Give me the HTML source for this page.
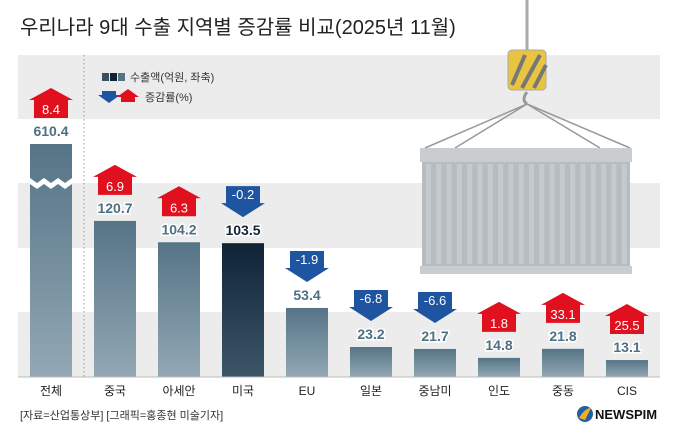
<!DOCTYPE html>
<html><head><meta charset="utf-8"><style>
body{margin:0;background:#fff}
svg{display:block;font-family:"Liberation Sans","Noto Sans CJK KR",sans-serif}
</style></head><body>
<svg width="680" height="442" viewBox="0 0 680 442">
<defs>
<linearGradient id="bg" x1="0" y1="0" x2="0" y2="1"><stop offset="0" stop-color="#557486"/><stop offset="1" stop-color="#93a8b4"/></linearGradient>
<linearGradient id="bd" x1="0" y1="0" x2="0" y2="1"><stop offset="0" stop-color="#0f2436"/><stop offset="1" stop-color="#3c5668"/></linearGradient>
</defs>
<text x="20" y="34" font-size="20" fill="#222">우리나라 9대 수출 지역별 증감률 비교(2025년 11월)</text>
<g>
<rect x="18" y="55" width="642" height="64" fill="#ececec"/>
<rect x="18" y="183" width="642" height="65" fill="#ececec"/>
<rect x="18" y="312" width="642" height="65" fill="#ececec"/>
</g>
<line x1="84" y1="55" x2="84" y2="377" stroke="#999" stroke-dasharray="1.5,2.5"/>
<g>
<line x1="527" y1="0" x2="527" y2="60" stroke="#aaa" stroke-width="3"/>
<rect x="508" y="50" width="38" height="40" rx="4" fill="#e8c440" stroke="#aaa"/>
<path d="M512 85 L525 55 M522 88 L540 55 M534 88 L546 65" stroke="#777" stroke-width="4"/>
<path d="M527 92 q-6 8 0 12" stroke="#999" stroke-width="3" fill="none"/>
<path d="M527 104 L425 148 M527 104 L455 148 M527 104 L600 148 M527 104 L630 148" stroke="#999" stroke-width="1.5"/>
<rect x="420" y="148" width="212" height="14" fill="#c9cdd0"/>
<rect x="422" y="162" width="208" height="104" fill="#b7bcc0"/>
<g id="ribs"></g>
<rect x="420" y="266" width="212" height="8" fill="#c9cdd0"/>
</g>
<g>
<rect x="102" y="73" width="7" height="8" fill="#3a5060"/><rect x="110" y="73" width="7" height="8" fill="#0f2436"/><rect x="118" y="73" width="7" height="8" fill="#557486"/>
<text x="130" y="81" font-size="11" fill="#333">수출액(억원, 좌축)</text>
<path d="M102 91 h14 v4 h4 l-11 8 l-11 -8 h4z" fill="#1f54a0"/>
<path d="M121 102 v-5 h-4 l11 -8 l11 8 h-4 v5z" fill="#e0101e"/>
<text x="145" y="101" font-size="11" fill="#333">증감률(%)</text>
</g>
<g id="bars"></g>
<line x1="18" y1="377" x2="660" y2="377" stroke="#bbb"/>
<text x="20" y="419" font-size="11" fill="#333">[자료=산업통상부] [그래픽=홍종현 미술기자]</text>
<g>
<circle cx="585" cy="414" r="8" fill="#1f5fa8"/><path d="M579 418 q6 -10 12 -10 l-6 12z" fill="#f0b020"/>
<text x="595" y="419" font-size="13" font-weight="bold" fill="#111">NEWSPIM</text>
</g>
</svg>
<script>
const categories=["전체","중국","아세안","미국","EU","일본","중남미","인도","중동","CIS"];
const exportValues=[610.4,120.7,104.2,103.5,53.4,23.2,21.7,14.8,21.8,13.1];
const changeRates=[8.4,6.9,6.3,-0.2,-1.9,-6.8,-6.6,1.8,33.1,25.5];
const NS="http://www.w3.org/2000/svg";
const base=377,scale=1.293,cap=233;
function xC(i){return 51+i*64;}
function yV(v){return base-Math.min(v*scale,cap);}
const ribs=document.getElementById('ribs');
for(let k=0;k<20;k++){const r=document.createElementNS(NS,'rect');r.setAttribute('x',426+k*10.3);r.setAttribute('y',164);r.setAttribute('width',5);r.setAttribute('height',100);r.setAttribute('fill','#c6cacd');ribs.appendChild(r);}
const g=document.getElementById('bars');
function mk(tag,attrs){const e=document.createElementNS(NS,tag);for(const k in attrs)e.setAttribute(k,attrs[k]);g.appendChild(e);return e;}
categories.forEach((c,i)=>{
  const x=xC(i),top=yV(exportValues[i]);
  const b=mk('rect',{x:x-21,y:top,width:42,height:base-top,fill:i===3?'url(#bd)':'url(#bg)'});
  
  
  if(i===0){const z=mk('path',{d:`M${x-21} 178 l7 5 l7 -5 l7 5 l7 -5 l7 5 l7 -5 v6 l-7 5 l-7 -5 l-7 5 l-7 -5 l-7 5 l-7 -5z`,fill:'#fff'});}
  const t=mk('text',{x:x,y:top-8,'text-anchor':'middle','font-size':14,'font-weight':'bold',fill:i===3?'#152535':'#4f6f82',stroke:'#fff','stroke-width':3,'paint-order':'stroke'});
  t.textContent=exportValues[i];
  
  
  const r=changeRates[i],by=top-26;
  let a;
  if(r>=0){a=mk('path',{d:`M${x-17} ${by} v-18 h-5 l22 -12 l22 12 h-5 v18z`,fill:'#e0101e'});}
  else{a=mk('path',{d:`M${x-17} ${by-31} h34 v17 h5 l-22 14 l-22 -14 h5z`,fill:'#1f54a0'});}
  
  
  const at=mk('text',{x:x,y:r>=0?by-4:by-18,'text-anchor':'middle','font-size':13,fill:'#fff'});
  at.textContent=r;
  
  
  const cl=mk('text',{x:x,y:395,'text-anchor':'middle','font-size':12,fill:'#222'});
  cl.textContent=c;
  
  
});
</script>
</body></html>
